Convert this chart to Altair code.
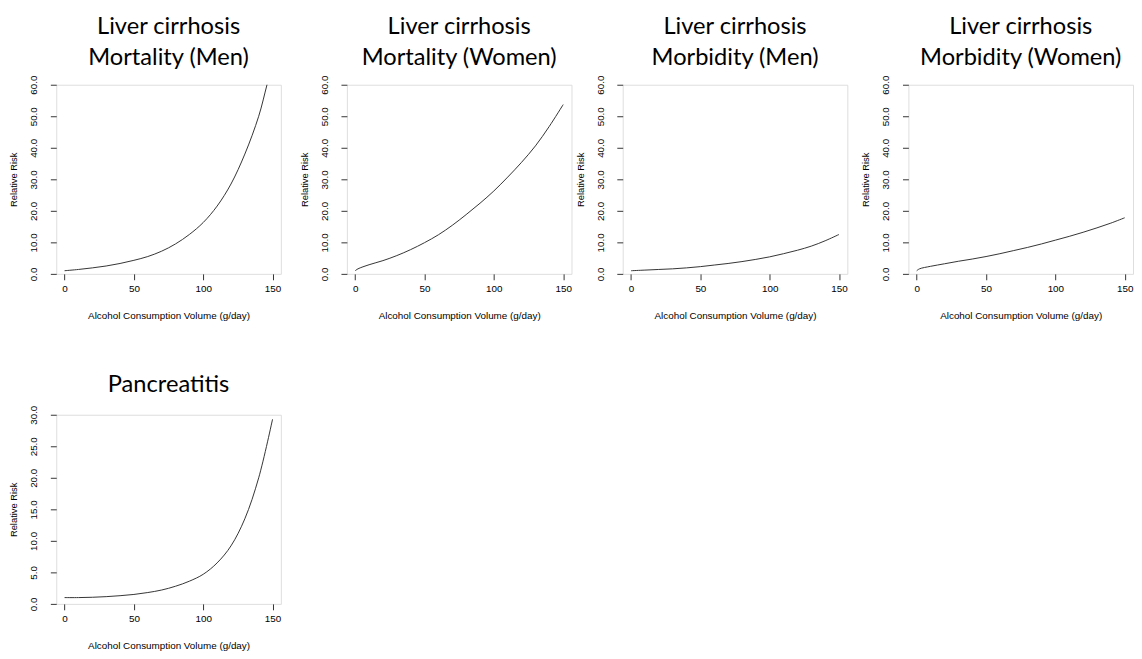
import altair as alt
import pandas as pd

# ---- data ----
titles = [
    ["Liver cirrhosis", "Mortality (Men)"],
    ["Liver cirrhosis", "Mortality (Women)"],
    ["Liver cirrhosis", "Morbidity (Men)"],
    ["Liver cirrhosis", "Morbidity (Women)"],
    ["Pancreatitis"],
]

x_mort_men = [0, 10, 20, 30, 40, 50, 60, 70, 80, 90, 100, 110, 120, 130, 140, 146, 150]
rr_mort_men = [1.0, 1.4, 1.9, 2.5, 3.3, 4.3, 5.5, 7.2, 9.5, 12.5, 16.3, 21.5, 28.5, 38.0, 50.0, 60.0, 66.5]

x_mort_women = [0, 2, 10, 20, 30, 40, 50, 60, 70, 80, 90, 100, 110, 120, 130, 140, 150]
rr_mort_women = [1.0, 1.6, 2.9, 4.2, 5.8, 7.7, 9.9, 12.4, 15.4, 18.8, 22.4, 26.3, 30.7, 35.4, 40.6, 46.8, 53.7]

x_morb_men = [0, 10, 20, 30, 40, 50, 60, 70, 80, 90, 100, 110, 120, 130, 140, 150]
rr_morb_men = [1.0, 1.2, 1.4, 1.6, 1.9, 2.3, 2.8, 3.3, 3.9, 4.6, 5.4, 6.4, 7.5, 8.8, 10.5, 12.5]

x_morb_women = [0, 2, 10, 20, 30, 40, 50, 60, 70, 80, 90, 100, 110, 120, 130, 140, 150]
rr_morb_women = [1.0, 1.6, 2.4, 3.2, 4.0, 4.7, 5.5, 6.4, 7.4, 8.4, 9.5, 10.7, 11.9, 13.2, 14.6, 16.1, 17.8]

x_pancreatitis = [0, 10, 20, 30, 40, 50, 60, 70, 80, 90, 100, 110, 120, 130, 140, 150]
rr_pancreatitis = [1.0, 1.0, 1.05, 1.15, 1.3, 1.5, 1.8, 2.2, 2.8, 3.6, 4.7, 6.5, 9.2, 13.5, 20.0, 29.3]

x_ticks = [0, 50, 100, 150]
y_ticks_60 = [0, 10, 20, 30, 40, 50, 60]
y_ticks_30 = [0, 5, 10, 15, 20, 25, 30]

X_TITLE = "Alcohol Consumption Volume (g/day)"
Y_TITLE = "Relative Risk"

TICK_FONT = "Liberation Sans"
TITLE_FONT = "Lato"


def panel(xs, ys, title, ymax, yticks, title_offset):
    df = pd.DataFrame({"x": xs, "y": ys})
    return (
        alt.Chart(
            df,
            title=alt.Title(
                title,
                font=TITLE_FONT,
                fontSize=24,
                fontWeight="normal",
                lineHeight=32,
                anchor="middle",
                frame="group",
                offset=title_offset,
                color="#000000",
            ),
        )
        .mark_line(color="#333333", strokeWidth=1, interpolate="catmull-rom", clip=True)
        .encode(
            x=alt.X(
                "x:Q",
                scale=alt.Scale(domain=[-6, 156], nice=False, zero=False),
                axis=alt.Axis(
                    values=x_ticks,
                    title=X_TITLE,
                    format="d",
                    domain=False,
                    grid=False,
                    tickSize=6,
                    tickColor="#333333",
                    labelPadding=4,
                    labelFont=TICK_FONT,
                    labelFontSize=10,
                    labelColor="#000000",
                    titleFont=TICK_FONT,
                    titleFontSize=10,
                    titleFontWeight="normal",
                    titleColor="#000000",
                    titlePadding=17,
                ),
            ),
            y=alt.Y(
                "y:Q",
                scale=alt.Scale(domain=[0, ymax], nice=False),
                axis=alt.Axis(
                    values=yticks,
                    title=Y_TITLE,
                    format=".1f",
                    domain=False,
                    grid=False,
                    tickSize=6,
                    tickColor="#333333",
                    labelAngle=270,
                    labelAlign="center",
                    labelBaseline="bottom",
                    labelPadding=12,
                    labelFont=TICK_FONT,
                    labelFontSize=10,
                    labelColor="#000000",
                    titleFont=TICK_FONT,
                    titleFontSize=9.5,
                    titleFontWeight="normal",
                    titleColor="#000000",
                    titlePadding=10,
                ),
            ),
        )
        .properties(width=228, height=192)
    )


p1 = panel(x_mort_men, rr_mort_men, titles[0], 60, y_ticks_60, 5)
p2 = panel(x_mort_women, rr_mort_women, titles[1], 60, y_ticks_60, 5)
p3 = panel(x_morb_men, rr_morb_men, titles[2], 60, y_ticks_60, 5)
p4 = panel(x_morb_women, rr_morb_women, titles[3], 60, y_ticks_60, 5)
p5 = panel(x_pancreatitis, rr_pancreatitis, titles[4], 30, y_ticks_30, 8)

top_row = alt.hconcat(
    alt.hconcat(p1, p2, spacing=17),
    alt.hconcat(p3, p4, spacing=12),
    spacing=2,
)

chart = (
    alt.vconcat(top_row, p5, spacing=52)
    .properties(padding={"left": 0, "top": 1, "right": 0, "bottom": 0})
    .configure_view(stroke="#555555", strokeWidth=1)
    .configure(background="white")
)

chart.save("out.html", embed_options={"renderer": "svg", "actions": False})
